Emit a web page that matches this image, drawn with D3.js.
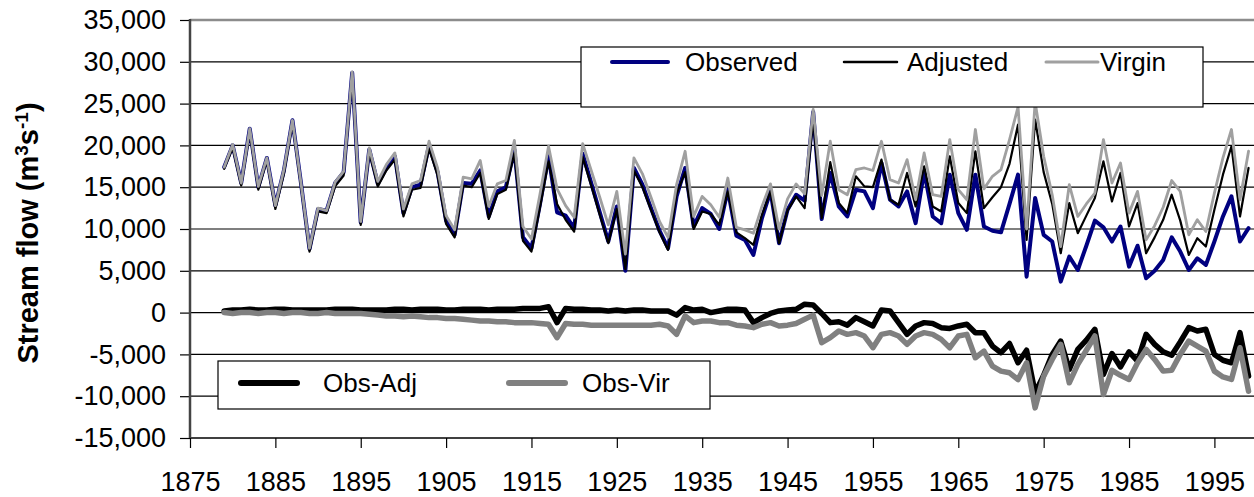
<!DOCTYPE html>
<html><head><meta charset="utf-8">
<script src="https://cdn.jsdelivr.net/npm/d3@7"></script>
<style>
html,body{margin:0;padding:0;background:#fff;}
svg{display:block;font-family:"Liberation Sans",Arial,sans-serif;}
</style></head>
<body>
<svg id="chart" width="1254" height="497"></svg>
<script>
// years 1879..1999, values in thousands of m3/s
const firstYear = 1879;
const observed = [
17.4,20.0,15.5,22.0,15.0,18.5,12.8,17.0,23.0,15.5,
7.6,12.4,12.2,15.5,16.8,28.7,10.8,19.5,15.4,17.3,
18.7,11.9,15.0,15.3,20.0,16.8,11.0,9.3,15.5,15.4,
17.0,11.5,14.5,15.0,19.5,9.0,7.7,13.0,18.7,12.0,
11.6,10.1,19.0,15.5,12.0,8.5,12.7,5.0,17.3,15.3,
12.5,9.8,7.7,13.9,17.3,10.3,12.5,11.8,10.0,14.7,
9.2,8.7,6.9,11.3,14.5,8.3,12.3,14.1,13.4,24.0,
11.2,16.7,12.7,11.5,14.7,14.5,12.5,17.9,13.5,12.7,
14.5,10.7,16.9,11.5,10.7,16.5,11.9,9.9,16.5,10.3,
9.8,9.6,13.0,16.5,4.3,13.7,9.3,8.5,3.7,6.7,
5.1,8.0,11.0,10.2,8.5,10.3,5.5,8.0,4.1,5.0,
6.3,9.0,7.3,5.1,6.5,5.7,8.5,11.5,13.9,8.5,
10.1];
const adjusted = [
17.2,19.7,15.2,21.6,14.7,18.2,12.4,16.6,22.7,15.2,
7.3,12.1,11.9,15.1,16.4,28.3,10.5,19.2,15.1,17.0,
18.3,11.5,14.7,14.9,19.6,16.4,10.6,9.0,15.2,15.0,
16.7,11.2,14.2,14.7,19.1,8.6,7.3,12.6,18.1,13.0,
11.1,9.7,18.6,15.2,11.7,8.3,12.4,5.2,17.0,15.0,
12.3,9.6,7.5,14.2,16.8,10.0,12.1,11.8,10.5,14.5,
9.6,8.9,8.1,11.7,14.5,8.3,12.2,13.9,12.5,23.2,
11.3,18.0,13.1,11.9,16.3,15.1,15.0,18.3,13.5,12.9,
16.7,12.7,17.5,12.7,12.1,18.7,13.1,11.9,19.3,12.5,
13.8,15.0,17.8,22.5,8.7,23.1,16.8,13.0,7.1,13.1,
9.5,11.6,13.7,18.1,13.3,16.7,10.3,13.1,7.1,9.0,
11.1,14.1,11.0,6.9,8.9,7.9,12.3,16.5,19.9,11.5,
17.3];
const virgin = [
17.4,20.1,15.5,22.0,15.1,18.5,12.8,17.1,23.0,15.5,
7.7,12.5,12.2,15.6,16.9,28.8,10.9,19.7,15.7,17.7,
19.1,12.4,15.4,15.8,20.5,17.3,11.6,9.9,16.2,16.0,
18.2,12.7,15.4,15.8,20.6,10.3,8.8,14.2,19.9,14.8,
12.8,11.4,20.2,17.0,13.8,10.5,14.5,7.0,18.5,16.6,
13.8,10.9,9.0,15.3,19.3,11.5,13.9,12.9,11.4,16.1,
10.2,9.9,9.5,12.7,15.4,10.0,13.6,15.4,14.2,24.3,
14.0,20.5,14.7,14.1,17.1,17.3,17.0,20.5,15.9,15.5,
18.3,13.5,19.1,14.1,13.9,20.7,14.7,13.5,21.9,14.8,
16.3,17.1,20.7,24.6,10.0,25.2,18.7,14.1,7.9,15.3,
11.5,13.0,14.3,20.7,15.5,17.9,11.9,14.5,8.7,10.4,
12.6,15.8,14.5,9.3,11.1,9.7,14.3,18.5,21.9,13.5,
19.3];
const obsAdj = [
0.2,0.3,0.3,0.4,0.3,0.3,0.4,0.4,0.3,0.3,
0.3,0.3,0.3,0.4,0.4,0.4,0.3,0.3,0.3,0.3,
0.4,0.4,0.3,0.4,0.4,0.4,0.3,0.3,0.4,0.4,
0.4,0.3,0.4,0.4,0.4,0.5,0.5,0.5,0.7,-1.2,
0.5,0.4,0.4,0.3,0.3,0.2,0.3,0.2,0.3,0.3,
0.2,0.2,0.2,-0.3,0.6,0.3,0.4,0.0,0.2,0.4,
0.4,0.3,-1.2,-0.6,-0.1,0.2,0.3,0.4,1.0,0.9,
-0.1,-1.2,-1.1,-1.5,-0.6,-1.1,-1.6,0.3,0.2,-1.2,
-2.6,-1.6,-1.2,-1.3,-1.8,-1.9,-1.6,-1.4,-2.4,-2.4,
-4.0,-4.8,-3.7,-6.0,-4.5,-9.6,-7.5,-5.0,-3.4,-6.8,
-4.4,-3.3,-2.0,-7.4,-4.9,-6.5,-4.7,-5.8,-2.6,-3.8,
-4.7,-5.1,-3.5,-1.8,-2.2,-2.0,-5.0,-5.7,-6.0,-2.4,
-7.6];
const obsVir = [
0.0,-0.1,0.0,0.0,-0.1,0.0,0.0,-0.1,0.0,0.0,
-0.1,-0.1,0.0,-0.1,-0.1,-0.1,-0.1,-0.2,-0.3,-0.4,
-0.4,-0.5,-0.4,-0.5,-0.6,-0.6,-0.7,-0.7,-0.8,-0.9,
-1.0,-1.0,-1.1,-1.1,-1.2,-1.2,-1.2,-1.3,-1.4,-3.0,
-1.3,-1.4,-1.4,-1.5,-1.5,-1.5,-1.5,-1.5,-1.5,-1.5,
-1.5,-1.4,-1.6,-2.6,-0.4,-1.2,-1.0,-1.0,-1.2,-1.2,
-1.5,-1.6,-1.8,-1.4,-1.2,-1.6,-1.5,-1.3,-0.8,-0.3,
-3.6,-3.0,-2.2,-2.6,-2.4,-2.8,-4.2,-2.6,-2.4,-2.8,
-3.8,-2.8,-2.4,-2.6,-3.2,-4.2,-2.8,-2.6,-5.4,-4.6,
-6.4,-7.0,-7.2,-8.0,-6.0,-11.4,-7.6,-5.6,-3.8,-8.4,
-6.2,-4.5,-2.8,-9.8,-6.9,-7.5,-8.0,-6.0,-4.4,-5.6,
-7.0,-6.9,-5.0,-3.4,-4.0,-4.6,-7.0,-7.7,-8.0,-4.2,
-9.4];
const xTicks = [1875,1885,1895,1905,1915,1925,1935,1945,1955,1965,1975,1985,1995];
const yTicks = [-15,-10,-5,0,5,10,15,20,25,30,35];
const yTickLabels = ["-15,000","-10,000","-5,000","0","5,000","10,000","15,000","20,000","25,000","30,000","35,000"];
const legendTop = ["Observed","Adjusted","Virgin"];
const legendBottom = ["Obs-Adj","Obs-Vir"];

const svg = d3.select("#chart");
const L = 190, R = 1254, T = 20, B = 438;
const x = d3.scaleLinear().domain([1875,1995]).range([190,1214.4]);
const y = d3.scaleLinear().domain([-15,35]).range([B,T]);
const tickFont = 27;

// gridlines
svg.append("g").selectAll("line").data(yTicks.filter(v=>v>-15 && v<35)).join("line")
  .attr("x1",L).attr("x2",R).attr("y1",d=>y(d)).attr("y2",d=>y(d))
  .attr("stroke","#000").attr("stroke-width",1.2);
// top border (gray)
svg.append("line").attr("x1",L).attr("x2",R).attr("y1",y(35)).attr("y2",y(35))
  .attr("stroke","#8c8c8c").attr("stroke-width",2.5);

// axes
const yAxis = d3.axisLeft(y).tickValues(yTicks).tickSize(10).tickPadding(14)
  .tickFormat((d,i)=>yTickLabels[i]);
const gy = svg.append("g").attr("transform",`translate(${L},0)`).call(yAxis);
gy.select(".domain").remove();
gy.selectAll(".tick line").attr("stroke","#000").attr("stroke-width",1.2);
gy.selectAll("text").attr("font-size",tickFont).attr("font-family","Liberation Sans, Arial, sans-serif").attr("fill","#000");

const xAxis = d3.axisBottom(x).tickValues(xTicks).tickSize(10).tickPadding(24).tickFormat(d3.format("d"));
const gx = svg.append("g").attr("transform",`translate(0,${B})`).call(xAxis);
gx.select(".domain").remove();
gx.selectAll(".tick line").attr("stroke","#000").attr("stroke-width",1.2);
gx.selectAll("text").attr("font-size",tickFont).attr("font-family","Liberation Sans, Arial, sans-serif").attr("fill","#000");

svg.append("line").attr("x1",L).attr("x2",R).attr("y1",B).attr("y2",B).attr("stroke","#000").attr("stroke-width",1.5);
svg.append("line").attr("x1",L).attr("x2",L).attr("y1",T-1).attr("y2",B).attr("stroke","#444").attr("stroke-width",2.5);

// clip
svg.append("clipPath").attr("id","clip").append("rect").attr("x",L).attr("y",T-10).attr("width",R-L).attr("height",B-T+20);
const plot = svg.append("g").attr("clip-path","url(#clip)");

const line = d3.line().x((d,i)=>x(firstYear+i)).y(d=>y(d)).curve(d3.curveLinear);
const series = [
  {data: obsAdj, color:"#000000", w:5.5},
  {data: obsVir, color:"#808080", w:5.5},
  {data: observed, color:"#000080", w:4},
  {data: adjusted, color:"#000000", w:2.2},
  {data: virgin, color:"#a0a0a0", w:2.8}
];
series.forEach(s=>{
  plot.append("path").datum(s.data).attr("d",line)
    .attr("fill","none").attr("stroke",s.color).attr("stroke-width",s.w)
    .attr("stroke-linejoin","round").attr("stroke-linecap","round");
});

// top legend
const lg1 = svg.append("g");
lg1.append("rect").attr("x",581).attr("y",47).attr("width",622).attr("height",60)
  .attr("fill","#fff").attr("stroke","#000").attr("stroke-width",1.2);
const topItems = [
  {label:legendTop[0], color:"#000080", w:4, x1:612, x2:668, tx:685},
  {label:legendTop[1], color:"#000000", w:2.5, x1:844, x2:897, tx:907},
  {label:legendTop[2], color:"#a0a0a0", w:3, x1:1046, x2:1098, tx:1100}
];
topItems.forEach(it=>{
  lg1.append("line").attr("x1",it.x1).attr("x2",it.x2).attr("y1",62).attr("y2",62)
    .attr("stroke",it.color).attr("stroke-width",it.w).attr("stroke-linecap","round");
  lg1.append("text").attr("x",it.tx).attr("y",62).attr("dy","0.35em")
    .attr("font-size",26).attr("fill","#000").text(it.label);
});

// bottom legend
const lg2 = svg.append("g");
lg2.append("rect").attr("x",218).attr("y",361).attr("width",492).attr("height",48)
  .attr("fill","#fff").attr("stroke","#000").attr("stroke-width",1.2);
const botItems = [
  {label:legendBottom[0], color:"#000000", x1:241, x2:297, tx:323},
  {label:legendBottom[1], color:"#808080", x1:509, x2:565, tx:582}
];
botItems.forEach(it=>{
  lg2.append("line").attr("x1",it.x1).attr("x2",it.x2).attr("y1",383).attr("y2",383)
    .attr("stroke",it.color).attr("stroke-width",6).attr("stroke-linecap","round");
  lg2.append("text").attr("x",it.tx).attr("y",383).attr("dy","0.35em")
    .attr("font-size",26).attr("fill","#000").text(it.label);
});

// y axis title
const title = svg.append("text").attr("transform","translate(38,233) rotate(-90)")
  .attr("text-anchor","middle").attr("font-size",29).attr("font-weight","bold").attr("fill","#000");
title.append("tspan").text("Stream flow (m");
title.append("tspan").attr("baseline-shift","super").attr("font-size",19).text("3");
title.append("tspan").text("s");
title.append("tspan").attr("baseline-shift","super").attr("font-size",19).text("-1");
title.append("tspan").text(")");
</script>
</body></html>
